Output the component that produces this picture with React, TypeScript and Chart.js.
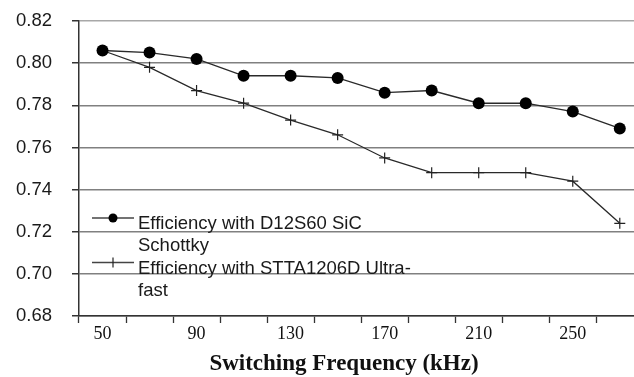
import { useEffect, useRef } from 'react';
import { Chart, registerables } from 'chart.js';

Chart.register(...registerables);

const frequencies = [50, 70, 90, 110, 130, 150, 170, 190, 210, 230, 250, 270];
const sicEfficiency = [0.806, 0.805, 0.802, 0.794, 0.794, 0.793, 0.786, 0.787, 0.781, 0.781, 0.777, 0.769];
const ultrafastEfficiency = [0.806, 0.798, 0.787, 0.781, 0.773, 0.766, 0.755, 0.748, 0.748, 0.748, 0.744, 0.724];
const sicLegend = ['Efficiency with D12S60 SiC', 'Schottky'];
const ultrafastLegend = ['Efficiency with STTA1206D Ultra-', 'fast'];
const xTitle = 'Switching Frequency (kHz)';

const SANS = '"Liberation Sans", Arial, sans-serif';
const SERIF = '"Liberation Serif", "Times New Roman", serif';

const overlayPlugin = {
  id: 'overlay',
  afterDraw(chart: any) {
    const { ctx, chartArea } = chart;
    ctx.save();
    const items = [
      { lines: sicLegend, ds: chart.data.datasets[0] },
      { lines: ultrafastLegend, ds: chart.data.datasets[1] },
    ];
    items.forEach((it, k) => {
      const base = 229 + k * 44.5;
      const lx0 = chartArea.left + 13;
      const lx1 = chartArea.left + 55;
      const ly = base - 11;
      ctx.strokeStyle = '#444';
      ctx.lineWidth = 1.3;
      ctx.beginPath();
      ctx.moveTo(lx0, ly);
      ctx.lineTo(lx1, ly);
      ctx.stroke();
      const mx = chartArea.left + 34;
      if (it.ds.pointStyle === 'circle') {
        ctx.fillStyle = '#000';
        ctx.beginPath();
        ctx.arc(mx, ly, 4.5, 0, Math.PI * 2);
        ctx.fill();
      } else {
        ctx.strokeStyle = '#222';
        ctx.lineWidth = 1.2;
        ctx.beginPath();
        ctx.moveTo(mx, ly - 5);
        ctx.lineTo(mx, ly + 5);
        ctx.stroke();
      }
      ctx.fillStyle = '#1a1a1a';
      ctx.font = `18.5px ${SANS}`;
      ctx.textBaseline = 'alphabetic';
      ctx.textAlign = 'left';
      it.lines.forEach((t, j) => {
        ctx.fillText(t, chartArea.left + 59, base + j * 22);
      });
    });
    ctx.font = `bold 23px ${SERIF}`;
    ctx.fillStyle = '#111';
    ctx.textAlign = 'center';
    ctx.textBaseline = 'alphabetic';
    ctx.fillText(xTitle, chartArea.left + 265, 370);
    ctx.restore();
  },
};

export default function App() {
  const ref = useRef<HTMLCanvasElement | null>(null);
  useEffect(() => {
    if (!ref.current) return;
    const chart = new Chart(ref.current, {
      type: 'line',
      data: {
        labels: frequencies.map(String),
        datasets: [
          {
            label: sicLegend.join(' '),
            data: sicEfficiency,
            borderColor: '#2a2a2a',
            borderWidth: 1.4,
            pointStyle: 'circle',
            pointRadius: 6,
            pointBackgroundColor: '#000',
            pointBorderColor: '#000',
            pointBorderWidth: 0,
            tension: 0,
          },
          {
            label: ultrafastLegend.join(''),
            data: ultrafastEfficiency,
            borderColor: '#2a2a2a',
            borderWidth: 1.3,
            pointStyle: 'cross',
            pointRadius: 5.5,
            pointBorderColor: '#222',
            pointBorderWidth: 1.2,
            tension: 0,
          },
        ],
      },
      options: {
        animation: false,
        responsive: false,
        devicePixelRatio: 1,
        layout: { padding: { top: 21, left: 0, right: 3, bottom: 0 } },
        plugins: {
          legend: { display: false },
          tooltip: { enabled: false },
        },
        scales: {
          x: {
            offset: true,
            afterFit: (s: any) => {
              s.height = 61;
              s.paddingLeft = 0;
              s.paddingRight = 0;
            },
            grid: {
              offset: true,
              drawOnChartArea: false,
              drawTicks: true,
              tickLength: 7,
              tickColor: '#333',
              tickWidth: 1.3,
            },
            border: { display: true, color: '#333', width: 1.5 },
            ticks: {
              autoSkip: false,
              maxRotation: 0,
              padding: 0,
              color: '#111',
              font: { family: SERIF, size: 18 },
              callback: (_v: any, i: number) => (i % 2 === 0 ? String(frequencies[i]) : ''),
            },
          },
          y: {
            min: 0.68,
            max: 0.82,
            afterFit: (s: any) => {
              s.width = 79;
              s.paddingTop = 0;
              s.paddingBottom = 0;
            },
            grid: {
              color: (c: any) => (c.tick && Math.abs(c.tick.value - 0.82) < 1e-6 ? '#a8a8a8' : '#808080'),
              lineWidth: 1.5,
              drawTicks: true,
              tickLength: 7,
              tickColor: '#333',
            },
            border: { display: true, color: '#333', width: 1.5 },
            ticks: {
              stepSize: 0.02,
              padding: 20,
              color: '#1a1a1a',
              font: { family: SANS, size: 18.5 },
              callback: (v: any) => Number(v).toFixed(2),
            },
          },
        },
      },
      plugins: [overlayPlugin],
    });
    return () => chart.destroy();
  }, []);
  return (
    <div style={{ position: 'fixed', left: 0, top: 0, width: 634, height: 377, overflow: 'hidden', background: '#fff' }}>
      <canvas ref={ref} width={650} height={377} style={{ width: 650, height: 377, display: 'block' }} />
    </div>
  );
}
